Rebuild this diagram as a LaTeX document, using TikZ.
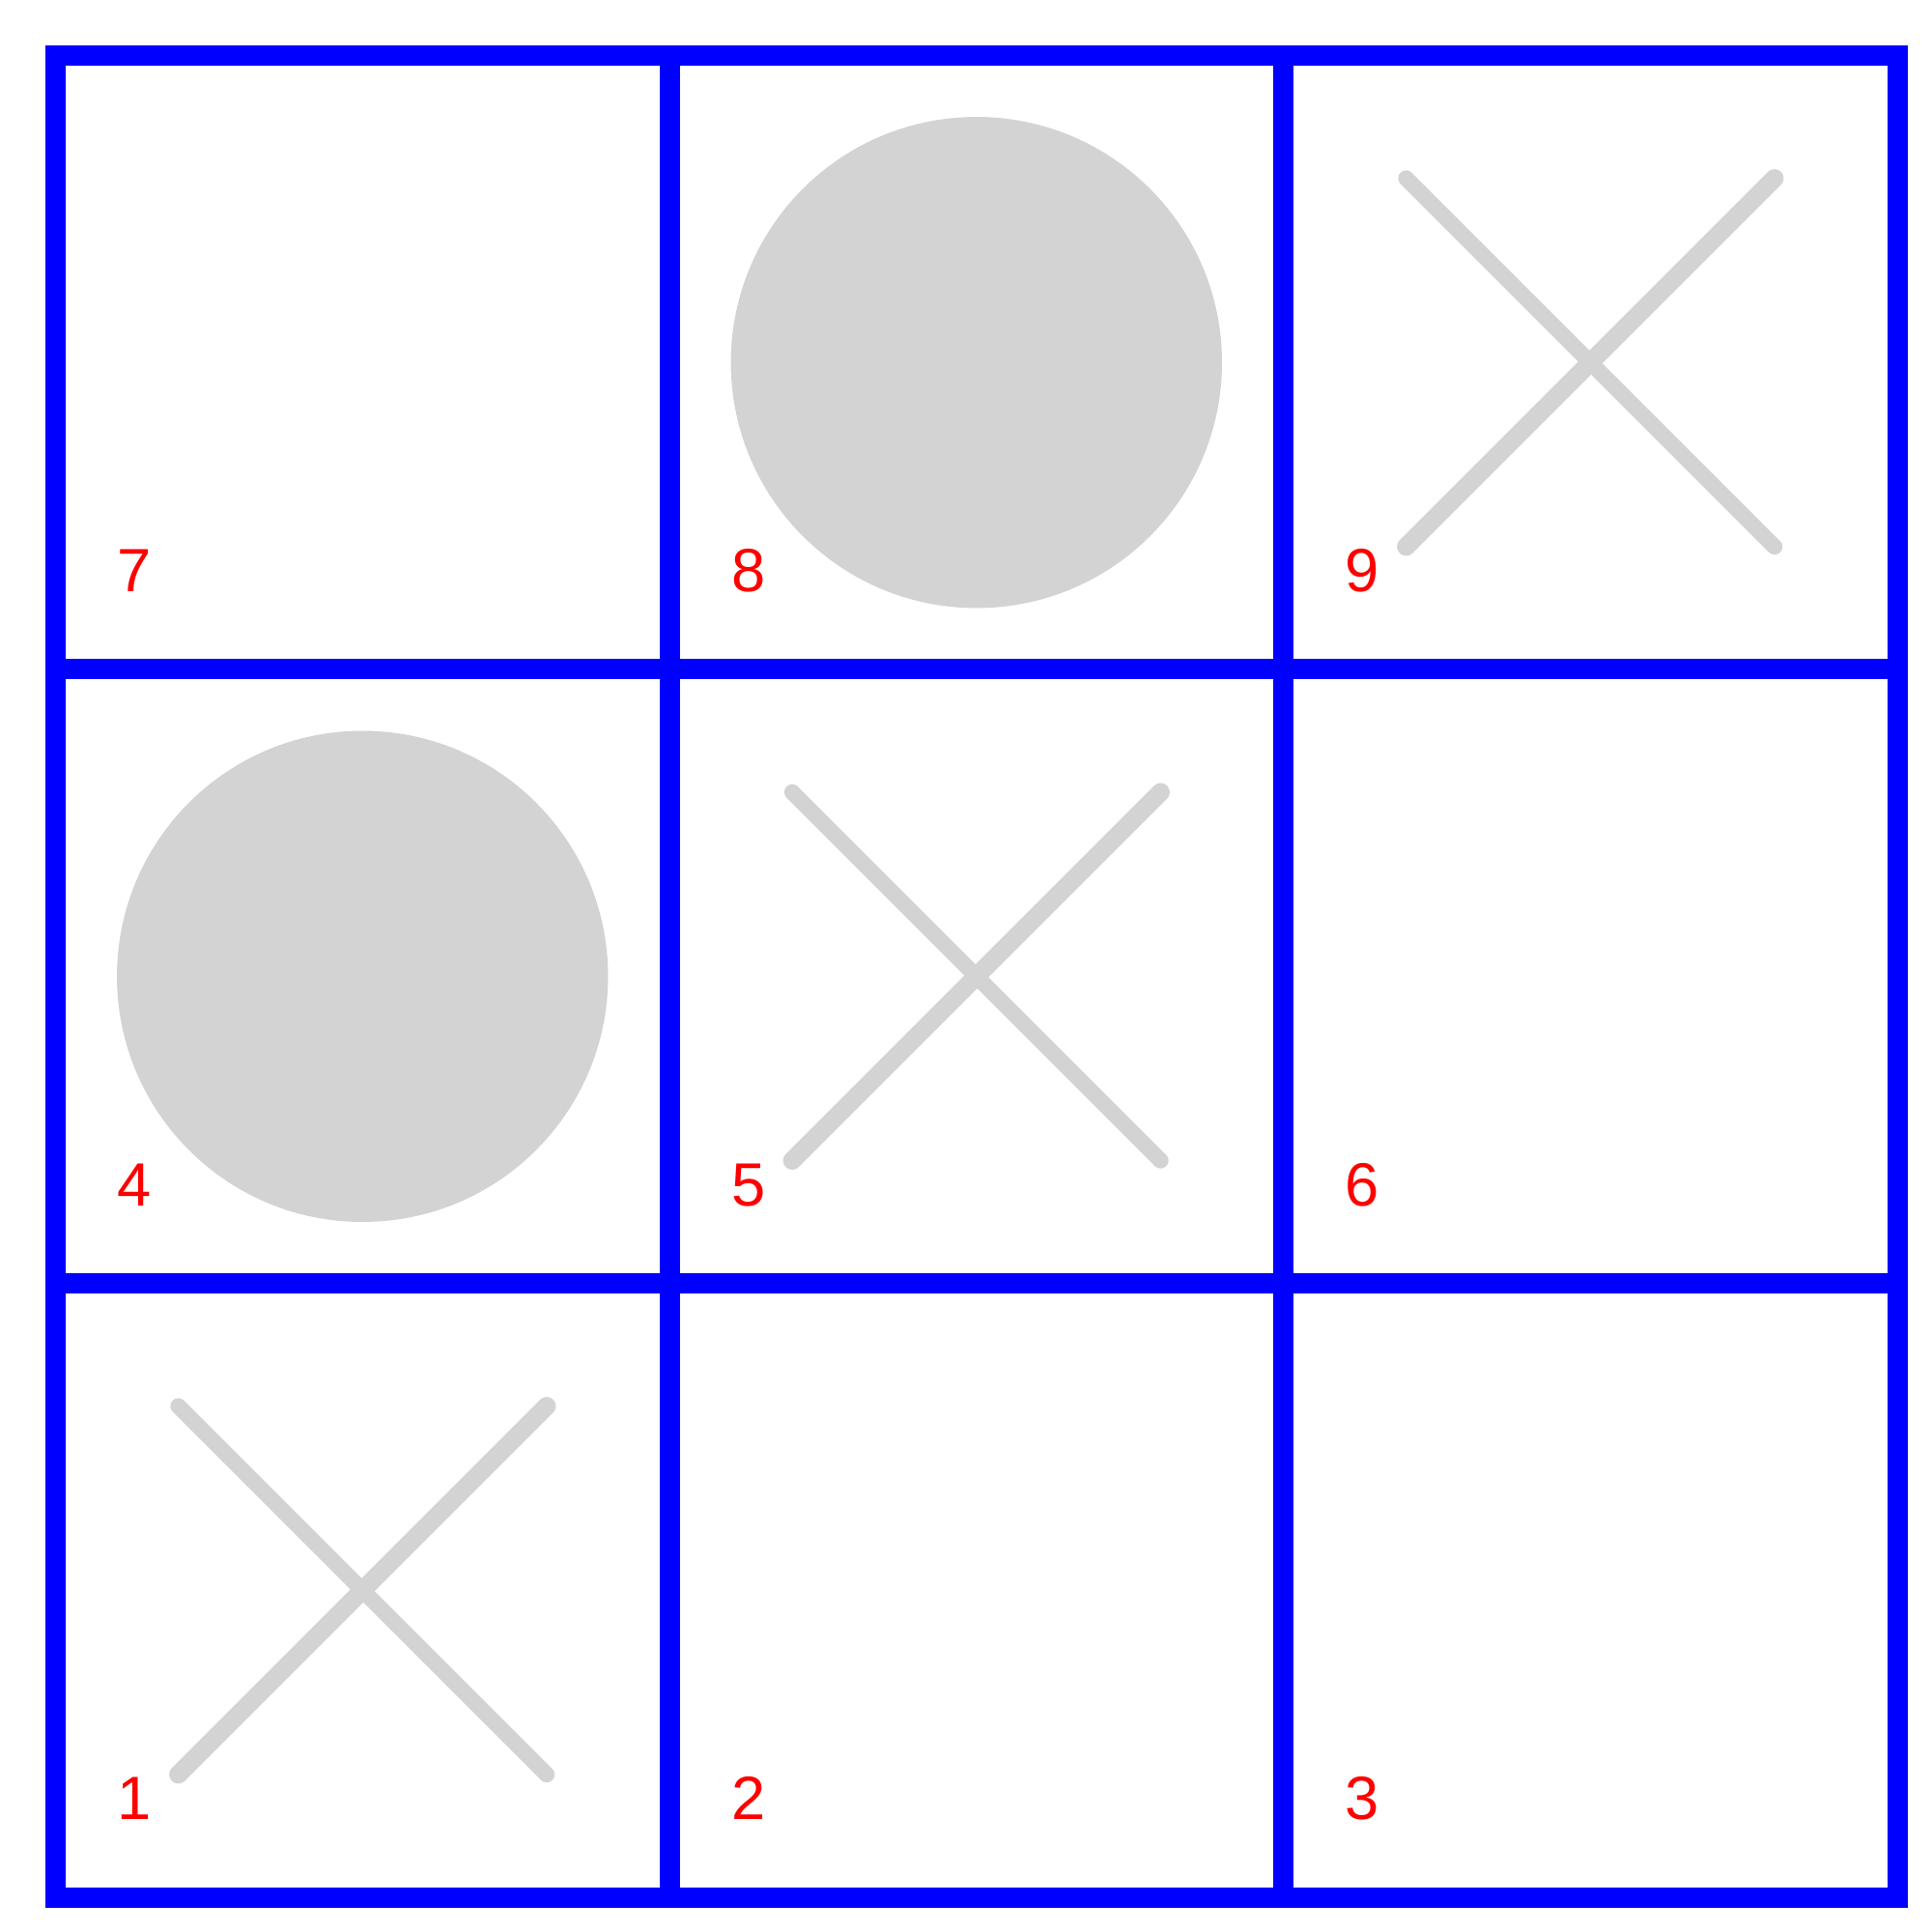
\documentclass[tikz,border=0pt]{standalone}
\usepackage{fontspec}
\setmainfont{Liberation Sans}
\definecolor{boardgray}{RGB}{211,211,211}
\begin{document}
\begin{tikzpicture}[x=6.355cm, y=6.355cm,
  gridline/.style={draw=blue, line width=2.1mm},
  stone/.style={fill=boardgray},
  cross/.style={draw=boardgray, line width=1.65mm, line cap=round},
  num/.style={text=red, font=\fontsize{18}{18}\selectfont, anchor=base west, inner sep=0pt}]
  \useasboundingbox (-0.0905,-0.0566) rectangle (3.0566,3.0905);
  % board
  \draw[gridline] (0,0) rectangle (3,3);
  \draw[gridline] (1,0) -- (1,3) (2,0) -- (2,3) (0,1) -- (3,1) (0,2) -- (3,2);
  % pieces
  \fill[stone] (1.5,2.5) circle (0.4);
  \fill[stone] (0.5,1.5) circle (0.4);
  \foreach \p in {(0.5,0.5),(1.5,1.5),(2.5,2.5)} {
    \draw[cross] \p ++(-0.3,0.3) -- ++(0.6,-0.6);
    \draw[cross, line width=1.9mm] \p ++(-0.3,-0.3) -- ++(0.6,0.6);
  }
  % cell numbers
  \foreach \n [evaluate=\n as \cx using {mod(\n-1,3)}, evaluate=\n as \cy using {floor((\n-1)/3)}] in {1,...,9}
    \node[num] (cell\n) at (\cx+0.1,\cy+0.126) {\n};
\end{tikzpicture}
\end{document}
